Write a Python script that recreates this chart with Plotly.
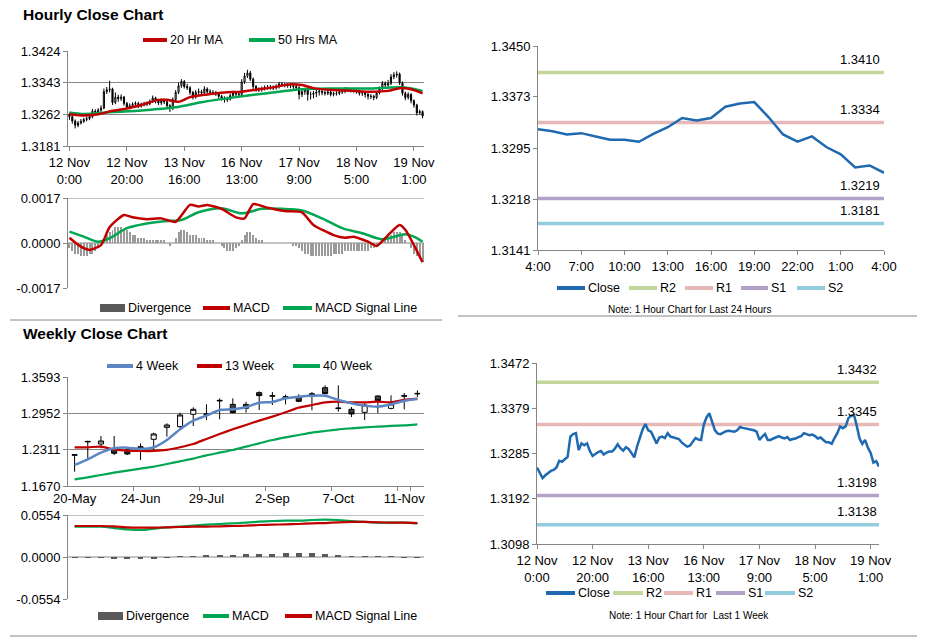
import plotly.graph_objects as go

W, H = 928, 638
FONT = "Liberation Sans, Arial, sans-serif"
GRID = "#868686"

# ---------------- Hourly (last week, 1h candles) ----------------
hourly_tick_labels = ["12 Nov<br>0:00", "12 Nov<br>20:00", "13 Nov<br>16:00", "16 Nov<br>13:00",
                      "17 Nov<br>9:00", "18 Nov<br>5:00", "19 Nov<br>1:00"]
hourly_tick_step = 20

hourly_close = [1.3256, 1.3245, 1.3234, 1.3240, 1.3244, 1.3249, 1.3251, 1.3256, 1.3270, 1.3268,
                1.3273, 1.3278, 1.3320, 1.3325, 1.3327, 1.3292, 1.3306, 1.3302, 1.3306, 1.3290,
                1.3280, 1.3284, 1.3288, 1.3290, 1.3283, 1.3287, 1.3289, 1.3289, 1.3295, 1.3304,
                1.3296, 1.3291, 1.3298, 1.3294, 1.3284, 1.3277, 1.3300, 1.3318, 1.3335, 1.3346,
                1.3333, 1.3330, 1.3318, 1.3306, 1.3318, 1.3320, 1.3317, 1.3327, 1.3320, 1.3318,
                1.3317, 1.3315, 1.3308, 1.3304, 1.3299, 1.3301, 1.3310, 1.3317, 1.3314, 1.3313,
                1.3345, 1.3360, 1.3368, 1.3352, 1.3333, 1.3326, 1.3325, 1.3328, 1.3331, 1.3332,
                1.3331, 1.3330, 1.3333, 1.3340, 1.3338, 1.3337, 1.3336, 1.3335, 1.3333, 1.3330,
                1.3313, 1.3320, 1.3325, 1.3313, 1.3313, 1.3316, 1.3319, 1.3321, 1.3318, 1.3316,
                1.3319, 1.3313, 1.3315, 1.3316, 1.3319, 1.3321, 1.3327, 1.3325, 1.3323, 1.3324,
                1.3321, 1.3316, 1.3318, 1.3313, 1.3308, 1.3308, 1.3305, 1.3317, 1.3327, 1.3341,
                1.3337, 1.3341, 1.3358, 1.3363, 1.3365, 1.3342, 1.3316, 1.3305, 1.3313, 1.3297,
                1.3286, 1.3266, 1.3269, 1.3258]
hourly_open = [1.3262, 1.3256, 1.3245, 1.3234, 1.3240, 1.3244, 1.3249, 1.3251, 1.3256, 1.3270,
               1.3268, 1.3273, 1.3278, 1.3320, 1.3325, 1.3327, 1.3292, 1.3306, 1.3302, 1.3306,
               1.3290, 1.3280, 1.3284, 1.3288, 1.3290, 1.3283, 1.3287, 1.3289, 1.3289, 1.3295,
               1.3304, 1.3296, 1.3291, 1.3298, 1.3294, 1.3284, 1.3277, 1.3300, 1.3318, 1.3335,
               1.3346, 1.3333, 1.3330, 1.3318, 1.3306, 1.3318, 1.3320, 1.3317, 1.3327, 1.3320,
               1.3318, 1.3317, 1.3315, 1.3308, 1.3304, 1.3299, 1.3301, 1.3310, 1.3317, 1.3314,
               1.3313, 1.3345, 1.3360, 1.3368, 1.3352, 1.3333, 1.3326, 1.3325, 1.3328, 1.3331,
               1.3332, 1.3331, 1.3330, 1.3333, 1.3340, 1.3338, 1.3337, 1.3336, 1.3335, 1.3333,
               1.3330, 1.3313, 1.3320, 1.3325, 1.3313, 1.3313, 1.3316, 1.3319, 1.3321, 1.3318,
               1.3316, 1.3319, 1.3313, 1.3315, 1.3316, 1.3319, 1.3321, 1.3327, 1.3325, 1.3323,
               1.3324, 1.3321, 1.3316, 1.3318, 1.3313, 1.3308, 1.3308, 1.3305, 1.3317, 1.3327,
               1.3341, 1.3337, 1.3341, 1.3358, 1.3363, 1.3365, 1.3342, 1.3316, 1.3305, 1.3313,
               1.3297, 1.3286, 1.3266, 1.3269]
hourly_high = [1.3266, 1.3260, 1.3249, 1.3245, 1.3250, 1.3253, 1.3257, 1.3262, 1.3276, 1.3275,
               1.3278, 1.3285, 1.3328, 1.3332, 1.3348, 1.3330, 1.3318, 1.3312, 1.3313, 1.3309,
               1.3294, 1.3290, 1.3293, 1.3295, 1.3294, 1.3292, 1.3294, 1.3295, 1.3300, 1.3310,
               1.3307, 1.3299, 1.3303, 1.3302, 1.3297, 1.3288, 1.3305, 1.3324, 1.3343, 1.3352,
               1.3350, 1.3340, 1.3334, 1.3322, 1.3324, 1.3328, 1.3325, 1.3334, 1.3331, 1.3326,
               1.3324, 1.3322, 1.3319, 1.3312, 1.3308, 1.3307, 1.3315, 1.3322, 1.3321, 1.3319,
               1.3352, 1.3368, 1.3376, 1.3373, 1.3356, 1.3337, 1.3331, 1.3333, 1.3336, 1.3337,
               1.3337, 1.3336, 1.3339, 1.3345, 1.3344, 1.3343, 1.3342, 1.3341, 1.3340, 1.3337,
               1.3334, 1.3326, 1.3330, 1.3328, 1.3320, 1.3322, 1.3325, 1.3327, 1.3326, 1.3323,
               1.3325, 1.3323, 1.3320, 1.3321, 1.3324, 1.3327, 1.3332, 1.3331, 1.3329, 1.3330,
               1.3328, 1.3325, 1.3323, 1.3322, 1.3316, 1.3314, 1.3312, 1.3322, 1.3333, 1.3347,
               1.3346, 1.3350, 1.3365, 1.3370, 1.3372, 1.3369, 1.3346, 1.3320, 1.3318, 1.3316,
               1.3300, 1.3289, 1.3274, 1.3272]
hourly_low = [1.3248, 1.3238, 1.3226, 1.3229, 1.3236, 1.3240, 1.3244, 1.3247, 1.3252, 1.3262,
              1.3263, 1.3268, 1.3275, 1.3314, 1.3318, 1.3286, 1.3288, 1.3294, 1.3296, 1.3284,
              1.3276, 1.3276, 1.3279, 1.3283, 1.3278, 1.3279, 1.3282, 1.3283, 1.3285, 1.3291,
              1.3290, 1.3286, 1.3286, 1.3288, 1.3278, 1.3268, 1.3273, 1.3296, 1.3314, 1.3330,
              1.3328, 1.3324, 1.3312, 1.3300, 1.3302, 1.3312, 1.3310, 1.3313, 1.3314, 1.3312,
              1.3311, 1.3309, 1.3302, 1.3297, 1.3292, 1.3294, 1.3297, 1.3305, 1.3308, 1.3307,
              1.3309, 1.3340, 1.3355, 1.3347, 1.3326, 1.3320, 1.3319, 1.3320, 1.3323, 1.3325,
              1.3325, 1.3324, 1.3325, 1.3328, 1.3332, 1.3331, 1.3330, 1.3329, 1.3327, 1.3323,
              1.3300, 1.3306, 1.3312, 1.3297, 1.3300, 1.3303, 1.3306, 1.3310, 1.3311, 1.3310,
              1.3311, 1.3308, 1.3308, 1.3310, 1.3311, 1.3314, 1.3316, 1.3319, 1.3318, 1.3318,
              1.3315, 1.3310, 1.3309, 1.3305, 1.3300, 1.3301, 1.3298, 1.3301, 1.3313, 1.3323,
              1.3331, 1.3332, 1.3337, 1.3352, 1.3356, 1.3337, 1.3310, 1.3298, 1.3300, 1.3290,
              1.3279, 1.3259, 1.3261, 1.3252]

ma20_idx = [0, 5, 10, 15, 20, 25, 31, 34, 38, 42, 48, 54, 60, 66, 71, 77, 81, 85, 92, 99, 104, 111, 115, 119, 123]
ma20_val = [1.3262, 1.3259, 1.3262, 1.3271, 1.3277, 1.3286, 1.3299, 1.3299, 1.3294, 1.3306,
            1.3313, 1.3318, 1.3320, 1.3326, 1.3331, 1.3339, 1.3337, 1.3329, 1.3324, 1.3322,
            1.3320, 1.3322, 1.3329, 1.3326, 1.3316]
ma50_idx = [0, 5, 15, 25, 37, 46, 58, 69, 81, 92, 104, 116, 123]
ma50_val = [1.3267, 1.3263, 1.3268, 1.3272, 1.3280, 1.3293, 1.3306, 1.3316, 1.3326, 1.3328,
            1.3328, 1.3331, 1.3322]

macd_idx = [0, 4, 7, 11, 14, 19, 22, 27, 32, 37, 42, 45, 48, 53, 58, 61, 64, 69, 75, 81,
            85, 92, 96, 99, 104, 107, 111, 115, 117, 120, 123]
macd_val = [0.00020, -0.00014, -0.00026, -0.00008, 0.00060, 0.00106, 0.00097, 0.00090, 0.00093, 0.00080,
            0.00144, 0.00138, 0.00144, 0.00129, 0.00097, 0.00093, 0.00147, 0.00133, 0.00121, 0.00116,
            0.00068, 0.00030, 0.00020, 0.00024, 0.00005, -0.00011, 0.00030, 0.00068, 0.00050, -0.00008,
            -0.00073]
signal_idx = [0, 5, 10, 14, 20, 26, 34, 39, 45, 53, 60, 67, 74, 81, 88, 95, 102, 109, 117, 120, 123]
signal_val = [0.00043, 0.00024, 0.00005, 0.00018, 0.00056, 0.00072, 0.00083, 0.00087, 0.00116, 0.00131,
              0.00112, 0.00129, 0.00129, 0.00123, 0.00093, 0.00056, 0.00037, 0.00014, 0.00033, 0.00024,
              0.00005]
hourly_div = [-0.0002, -0.0003, -0.0004, -0.0004, -0.0005, -0.0005, -0.0005, -0.0004, -0.0004, -0.0003,
              -0.0002, -0.0001, 0.0001, 0.0003, 0.0004, 0.0005, 0.0006, 0.0006, 0.0006, 0.0005,
              0.0005, 0.0004, 0.0003, 0.0003, 0.0002, 0.0002, 0.0002, 0.0001, 0.0001, 0.0001,
              0.0001, 0.0001, 0.0001, 0.0001, 0.0000, -0.0001, 0.0000, 0.0002, 0.0004, 0.0005,
              0.0005, 0.0004, 0.0003, 0.0003, 0.0003, 0.0002, 0.0002, 0.0002, 0.0001, 0.0001,
              0.0001, 0.0000, 0.0000, -0.0001, -0.0002, -0.0003, -0.0003, -0.0003, -0.0002, -0.0001,
              0.0001, 0.0003, 0.0004, 0.0004, 0.0003, 0.0002, 0.0001, 0.0001, 0.0000, 0.0000,
              0.0000, 0.0000, 0.0000, 0.0000, 0.0000, 0.0000, 0.0000, 0.0000, -0.0001, -0.0001,
              -0.0002, -0.0003, -0.0004, -0.0004, -0.0005, -0.0005, -0.0005, -0.0005, -0.0005, -0.0005,
              -0.0005, -0.0005, -0.0004, -0.0004, -0.0004, -0.0004, -0.0003, -0.0003, -0.0003, -0.0003,
              -0.0003, -0.0003, -0.0003, -0.0003, -0.0003, -0.0002, -0.0002, -0.0001, 0.0000, 0.0001,
              0.0002, 0.0003, 0.0003, 0.0004, 0.0004, 0.0004, 0.0003, 0.0001, 0.0000, -0.0002,
              -0.0004, -0.0005, -0.0006, -0.0007]

# ---------------- Last 24 hours ----------------
day_tick_labels = ["4:00", "7:00", "10:00", "13:00", "16:00", "19:00", "22:00", "1:00", "4:00"]
day_tick_step = 3
day_close = hourly_close[-25:]

level_names = ["R2", "R1", "S1", "S2"]
level_colors = ["#c3d69b", "#e6b9b8", "#b3a2c7", "#93cddd"]
day_levels = [1.3410, 1.3334, 1.3219, 1.3181]
week_levels = [1.3432, 1.3345, 1.3198, 1.3138]

# ---------------- Weekly ----------------
weeks = ["20-May", "27-May", "3-Jun", "10-Jun", "17-Jun", "24-Jun", "1-Jul", "8-Jul", "15-Jul",
         "22-Jul", "29-Jul", "5-Aug", "12-Aug", "19-Aug", "26-Aug", "2-Sep", "9-Sep", "16-Sep",
         "23-Sep", "30-Sep", "7-Oct", "14-Oct", "21-Oct", "28-Oct", "4-Nov", "11-Nov", "18-Nov"]
weekly_open = [1.2212, 1.2448, 1.2411, 1.2335, 1.2306, 1.2306, 1.2494, 1.2705, 1.2717, 1.2935,
               1.2930, 1.3170, 1.3110, 1.3040, 1.3317, 1.3255, 1.3223, 1.3241, 1.3258, 1.3405,
               1.3036, 1.3023, 1.2970, 1.3258, 1.3040, 1.3254, 1.3295]
weekly_high = [1.2226, 1.2469, 1.2552, 1.2552, 1.2335, 1.2423, 1.2611, 1.2776, 1.2964, 1.3058,
               1.3110, 1.3216, 1.3217, 1.3158, 1.3340, 1.3329, 1.3282, 1.3288, 1.3329, 1.3446,
               1.3446, 1.3064, 1.3129, 1.3270, 1.3270, 1.3311, 1.3358]
weekly_low = [1.1923, 1.2159, 1.2335, 1.2217, 1.2217, 1.2129, 1.2276, 1.2541, 1.2688, 1.2729,
              1.2835, 1.2846, 1.2952, 1.2964, 1.3011, 1.3099, 1.3110, 1.3150, 1.3005, 1.3287,
              1.2982, 1.2887, 1.2835, 1.2958, 1.3023, 1.3023, 1.3241]
weekly_close = [1.2222, 1.2456, 1.2464, 1.2247, 1.2235, 1.2364, 1.2588, 1.2746, 1.2923, 1.3023,
                1.2940, 1.3180, 1.2964, 1.3110, 1.3264, 1.3262, 1.3247, 1.3164, 1.3299, 1.3299,
                1.3044, 1.2941, 1.3099, 1.3175, 1.3117, 1.3262, 1.3303]
ma4_week = [1.2041, 1.2141, 1.2258, 1.2335, 1.2347, 1.2323, 1.2353, 1.2482, 1.2670, 1.2823,
            1.2911, 1.3011, 1.3023, 1.3058, 1.3140, 1.3152, 1.3217, 1.3246, 1.3264, 1.3264,
            1.3188, 1.3129, 1.3088, 1.3070, 1.3111, 1.3175, 1.3205]
ma13_week = [1.2353, 1.2353, 1.2364, 1.2317, 1.2294, 1.2288, 1.2288, 1.2306, 1.2353, 1.2411,
             1.2500, 1.2588, 1.2670, 1.2746, 1.2823, 1.2894, 1.2970, 1.3052, 1.3099, 1.3146,
             1.3158, 1.3146, 1.3146, 1.3158, 1.3146, 1.3188, 1.3211]
ma40_week = [1.1788, 1.1823, 1.1864, 1.1905, 1.1941, 1.1976, 1.2011, 1.2058, 1.2105, 1.2152,
             1.2211, 1.2258, 1.2306, 1.2364, 1.2423, 1.2482, 1.2529, 1.2570, 1.2611, 1.2640,
             1.2670, 1.2688, 1.2705, 1.2717, 1.2729, 1.2740, 1.2758]
weekly_macd = [0.0400, 0.0400, 0.0400, 0.0382, 0.0364, 0.0356, 0.0373, 0.0391, 0.0400, 0.0413,
               0.0426, 0.0435, 0.0444, 0.0453, 0.0466, 0.0475, 0.0479, 0.0479, 0.0488, 0.0492,
               0.0488, 0.0475, 0.0462, 0.0453, 0.0453, 0.0453, 0.0444]
weekly_signal = [0.0409, 0.0409, 0.0409, 0.0405, 0.0391, 0.0387, 0.0387, 0.0391, 0.0396, 0.0400,
                 0.0400, 0.0405, 0.0409, 0.0413, 0.0422, 0.0426, 0.0431, 0.0435, 0.0444, 0.0448,
                 0.0457, 0.0462, 0.0462, 0.0457, 0.0453, 0.0453, 0.0448]
weekly_div = [-0.0010, -0.0010, -0.0008, -0.0015, -0.0025, -0.0028, -0.0018, -0.0008, 0.0008, 0.0012,
              0.0020, 0.0025, 0.0030, 0.0035, 0.0040, 0.0045, 0.0048, 0.0048, 0.0047, 0.0046,
              0.0020, 0.0012, 0.0010, 0.0008, 0.0008, -0.0008, -0.0008]


def xd(a, b):
    return [a / W, b / W]


def yd(top, bottom):
    return [1 - bottom / H, 1 - top / H]


def px(x):
    return x / W


def py(y):
    return 1 - y / H


fig = go.Figure()

n_h = len(hourly_close)
hx = list(range(n_h))

# Panel A: hourly candles
fig.add_trace(go.Candlestick(
    x=hx, open=hourly_open, high=hourly_high, low=hourly_low, close=hourly_close,
    increasing=dict(line=dict(color="black", width=1), fillcolor="white"),
    decreasing=dict(line=dict(color="black", width=1), fillcolor="black"),
    whiskerwidth=0, xaxis="x", yaxis="y", showlegend=False, name="Hourly"))
fig.add_trace(go.Scatter(x=ma50_idx, y=ma50_val, mode="lines", line=dict(color="#00a651", width=2.5, shape="spline", smoothing=0.8),
                         xaxis="x", yaxis="y", showlegend=False, name="50 Hrs MA"))
fig.add_trace(go.Scatter(x=ma20_idx, y=ma20_val, mode="lines", line=dict(color="#c00000", width=2.5, shape="spline", smoothing=0.8),
                         xaxis="x", yaxis="y", showlegend=False, name="20 Hr MA"))

# Panel B: hourly MACD
fig.add_trace(go.Bar(x=hx, y=hourly_div, marker=dict(color="#9a9a9a", line=dict(width=0)), width=0.35,
                     xaxis="x2", yaxis="y2", showlegend=False, name="Divergence"))
fig.add_trace(go.Scatter(x=signal_idx, y=signal_val, mode="lines", line=dict(color="#00a651", width=2.5, shape="spline", smoothing=0.8),
                         xaxis="x2", yaxis="y2", showlegend=False, name="MACD Signal Line"))
fig.add_trace(go.Scatter(x=macd_idx, y=macd_val, mode="lines", line=dict(color="#c00000", width=2.5, shape="spline", smoothing=0.6),
                         xaxis="x2", yaxis="y2", showlegend=False, name="MACD"))

# Panel C: last 24 hours
dx = list(range(len(day_close)))
for name, col, lv in zip(level_names, level_colors, day_levels):
    fig.add_trace(go.Scatter(x=[dx[0], dx[-1]], y=[lv, lv], mode="lines", line=dict(color=col, width=3.5),
                             xaxis="x3", yaxis="y3", showlegend=False, name=name))
fig.add_trace(go.Scatter(x=dx, y=day_close, mode="lines", line=dict(color="#1f69b1", width=2.5),
                         xaxis="x3", yaxis="y3", showlegend=False, name="Close"))

# Panel D: weekly candles
wx = list(range(len(weeks)))
fig.add_trace(go.Scatter(x=wx, y=ma40_week, mode="lines", line=dict(color="#00a651", width=2.2, shape="spline", smoothing=0.6),
                         xaxis="x4", yaxis="y4", showlegend=False, name="40 Week"))
fig.add_trace(go.Scatter(x=wx, y=ma13_week, mode="lines", line=dict(color="#c00000", width=2.2, shape="spline", smoothing=0.6),
                         xaxis="x4", yaxis="y4", showlegend=False, name="13 Week"))
fig.add_trace(go.Scatter(x=wx, y=ma4_week, mode="lines", line=dict(color="#5b86c3", width=2.5, shape="spline", smoothing=0.6),
                         xaxis="x4", yaxis="y4", showlegend=False, name="4 Week"))
fig.add_trace(go.Candlestick(
    x=wx, open=weekly_open, high=weekly_high, low=weekly_low, close=weekly_close,
    increasing=dict(line=dict(color="black", width=1), fillcolor="white"),
    decreasing=dict(line=dict(color="black", width=1), fillcolor="#404040"),
    whiskerwidth=0, xaxis="x4", yaxis="y4", showlegend=False, name="Weekly"))

# Panel E: weekly MACD
fig.add_trace(go.Bar(x=wx, y=weekly_div, marker=dict(color="#595959", line=dict(width=0)), width=0.45,
                     xaxis="x5", yaxis="y5", showlegend=False, name="Divergence"))
fig.add_trace(go.Scatter(x=wx, y=weekly_macd, mode="lines", line=dict(color="#00a651", width=2.2, shape="spline", smoothing=0.6),
                         xaxis="x5", yaxis="y5", showlegend=False, name="MACD"))
fig.add_trace(go.Scatter(x=wx, y=weekly_signal, mode="lines", line=dict(color="#c00000", width=2.2, shape="spline", smoothing=0.6),
                         xaxis="x5", yaxis="y5", showlegend=False, name="MACD Signal Line"))

# Panel F: last week hourly close
for name, col, lv in zip(level_names, level_colors, week_levels):
    fig.add_trace(go.Scatter(x=[hx[0], hx[-1]], y=[lv, lv], mode="lines", line=dict(color=col, width=3.5),
                             xaxis="x6", yaxis="y6", showlegend=False, name=name))
fig.add_trace(go.Scatter(x=hx, y=hourly_close, mode="lines", line=dict(color="#1f69b1", width=2.5),
                         xaxis="x6", yaxis="y6", showlegend=False, name="Close"))

tickfont = dict(family=FONT, size=13, color="black")


def yaxis(domain, rng, vals, text, anchor, grid=False):
    return dict(domain=domain, range=rng, tickvals=vals, ticktext=text, anchor=anchor,
                showline=True, linecolor=GRID, linewidth=1, ticks="outside", ticklen=4,
                tickcolor=GRID, tickfont=tickfont, showgrid=grid, gridcolor=GRID, gridwidth=1,
                zeroline=False, fixedrange=True, automargin=False)


def xaxis(domain, rng, vals, text, anchor, showline=True):
    return dict(domain=domain, range=rng, tickvals=vals, ticktext=text, anchor=anchor,
                showline=showline, linecolor=GRID, linewidth=1, ticks="outside" if vals else "",
                ticklen=4, tickcolor=GRID, tickfont=tickfont, showgrid=False, zeroline=False,
                rangeslider=dict(visible=False), fixedrange=True, automargin=False)


h_tickvals = [i * hourly_tick_step for i in range(len(hourly_tick_labels))]
d_tickvals = [i * day_tick_step for i in range(len(day_tick_labels))]
w_tickvals = wx[::5]
w_ticktext = weeks[::5]

fig.update_layout(
    width=W, height=H, autosize=False, margin=dict(l=0, r=0, t=0, b=0, pad=0, autoexpand=False),
    paper_bgcolor="white", plot_bgcolor="white", boxgap=0.45, showlegend=False,
    font=dict(family=FONT, size=12, color="black"),
    bargap=0,
    xaxis=xaxis(xd(68, 424), [-0.5, n_h - 0.5], h_tickvals, hourly_tick_labels, "y"),
    yaxis=yaxis(yd(51, 146), [1.3181, 1.3424], [1.3181, 1.3262, 1.3343, 1.3424],
                ["1.3181", "1.3262", "1.3343", "1.3424"], "x", grid=True),
    xaxis2=xaxis(xd(68, 424), [-0.5, n_h - 0.5], [], [], "y2", showline=False),
    yaxis2=yaxis(yd(198, 288), [-0.0017, 0.0017], [-0.0017, 0, 0.0017],
                 ["-0.0017", "0.0000", "0.0017"], "x2"),
    xaxis3=xaxis(xd(538, 884), [0, len(day_close) - 1], d_tickvals, day_tick_labels, "y3"),
    yaxis3=yaxis(yd(46, 250), [1.3141, 1.3450], [1.3141, 1.3218, 1.3295, 1.3373, 1.3450],
                 ["1.3141", "1.3218", "1.3295", "1.3373", "1.3450"], "x3"),
    xaxis4=xaxis(xd(68, 424), [-0.5, len(weeks) - 0.5], w_tickvals, w_ticktext, "y4"),
    yaxis4=yaxis(yd(377, 486), [1.1670, 1.3593], [1.1670, 1.2311, 1.2952, 1.3593],
                 ["1.1670", "1.2311", "1.2952", "1.3593"], "x4", grid=True),
    xaxis5=xaxis(xd(68, 424), [-0.5, len(weeks) - 0.5], [], [], "y5", showline=False),
    yaxis5=yaxis(yd(515, 599), [-0.0554, 0.0554], [-0.0554, 0, 0.0554],
                 ["-0.0554", "0.0000", "0.0554"], "x5"),
    xaxis6=xaxis(xd(537, 879), [0, n_h - 1], h_tickvals, hourly_tick_labels, "y6"),
    yaxis6=yaxis(yd(363, 544), [1.3098, 1.3472], [1.3098, 1.3192, 1.3285, 1.3379, 1.3472],
                 ["1.3098", "1.3192", "1.3285", "1.3379", "1.3472"], "x6"),
)
# weekly x ticks at category boundaries
fig.layout.xaxis4.ticks = ""
fig.layout.xaxis4.minor = dict(ticks="outside", tickmode="array",
                               tickvals=[v - 0.5 for v in w_tickvals[1:]] + [len(weeks) - 1.5],
                               ticklen=4, tickcolor=GRID)

shapes = []
annotations = []

# grid / zero lines for MACD panels (top gridline + zero line)
for xa, ya, top in (("x2", "y2", 0.0017), ("x5", "y5", 0.0554)):
    for yv in (top, 0):
        shapes.append(dict(type="line", xref=f"{xa} domain", yref=ya, x0=0, x1=1, y0=yv, y1=yv,
                           line=dict(color=GRID, width=1), layer="below"))

# separators
shapes.append(dict(type="line", xref="paper", yref="paper", x0=px(10), x1=px(442), y0=py(320), y1=py(320),
                   line=dict(color=GRID, width=1)))
shapes.append(dict(type="line", xref="paper", yref="paper", x0=px(458), x1=px(917), y0=py(316), y1=py(316),
                   line=dict(color=GRID, width=1)))
shapes.append(dict(type="line", xref="paper", yref="paper", x0=px(10), x1=px(917), y0=py(636), y1=py(636),
                   line=dict(color=GRID, width=1)))


def leg_line(x0, x1, y, color, text):
    shapes.append(dict(type="line", xref="paper", yref="paper", x0=px(x0), x1=px(x1), y0=py(y), y1=py(y),
                       line=dict(color=color, width=4)))
    annotations.append(dict(x=px(x1 + 1), y=py(y), xref="paper", yref="paper", text=text, showarrow=False,
                            xanchor="left", yanchor="middle", font=dict(family=FONT, size=12.5, color="black")))


def leg_box(x0, x1, y, color, text):
    shapes.append(dict(type="rect", xref="paper", yref="paper", x0=px(x0), x1=px(x1), y0=py(y + 4), y1=py(y - 4),
                       fillcolor=color, line=dict(width=0)))
    annotations.append(dict(x=px(x1 + 1), y=py(y), xref="paper", yref="paper", text=text, showarrow=False,
                            xanchor="left", yanchor="middle", font=dict(family=FONT, size=12.5, color="black")))


# Titles
for t, y in (("Hourly Close Chart", 14), ("Weekly Close Chart", 333)):
    annotations.append(dict(x=px(21), y=py(y), xref="paper", yref="paper", text=f"<b>{t}</b>", showarrow=False,
                            xanchor="left", yanchor="middle", font=dict(family=FONT, size=15.5, color="black")))

# Legends
leg_line(143, 167, 40, "#c00000", "20 Hr MA")
leg_line(249, 275, 40, "#00a651", "50 Hrs MA")
leg_box(100, 125, 308, "#595959", "Divergence")
leg_line(203, 230, 308, "#c00000", "MACD")
leg_line(283, 312, 308, "#00a651", "MACD Signal Line")

leg_line(557, 585, 288, "#1f69b1", "Close")
for (x0, x1), name, col in zip(((629, 657), (685, 713), (741, 768), (797, 825)), level_names, level_colors):
    leg_line(x0, x1, 288, col, name)
annotations.append(dict(x=px(689), y=py(309), xref="paper", yref="paper", text="Note: 1 Hour Chart for Last 24 Hours",
                        showarrow=False, xanchor="center", yanchor="middle", font=dict(family=FONT, size=10, color="black")))

leg_line(107, 133, 366, "#5b86c3", "4 Week")
leg_line(197, 222, 366, "#c00000", "13 Week")
leg_line(293, 320, 366, "#00a651", "40 Week")
leg_box(98, 123, 616, "#595959", "Divergence")
leg_line(203, 229, 616, "#00a651", "MACD")
leg_line(285, 312, 616, "#c00000", "MACD Signal Line")

leg_line(546, 575, 593, "#1f69b1", "Close")
for (x0, x1), name, col in zip(((613, 643), (664, 693), (716, 745), (765, 795)), level_names, level_colors):
    leg_line(x0, x1, 593, col, name)
annotations.append(dict(x=px(689), y=py(615), xref="paper", yref="paper", text="Note: 1 Hour Chart for  Last 1 Week",
                        showarrow=False, xanchor="center", yanchor="middle", font=dict(family=FONT, size=10, color="black")))

# Level value labels
for lv in day_levels:
    annotations.append(dict(x=px(860), y=lv, xref="paper", yref="y3", text=f"{lv:.4f}", showarrow=False,
                            xanchor="center", yanchor="middle", yshift=13, font=dict(family=FONT, size=13, color="black")))
for lv in week_levels:
    annotations.append(dict(x=px(857), y=lv, xref="paper", yref="y6", text=f"{lv:.4f}", showarrow=False,
                            xanchor="center", yanchor="middle", yshift=13, font=dict(family=FONT, size=13, color="black")))

fig.update_layout(shapes=shapes, annotations=annotations)
fig.write_html("out.html", config={"displayModeBar": False},
               post_script="document.body.style.margin='0';document.body.style.padding='0';")
